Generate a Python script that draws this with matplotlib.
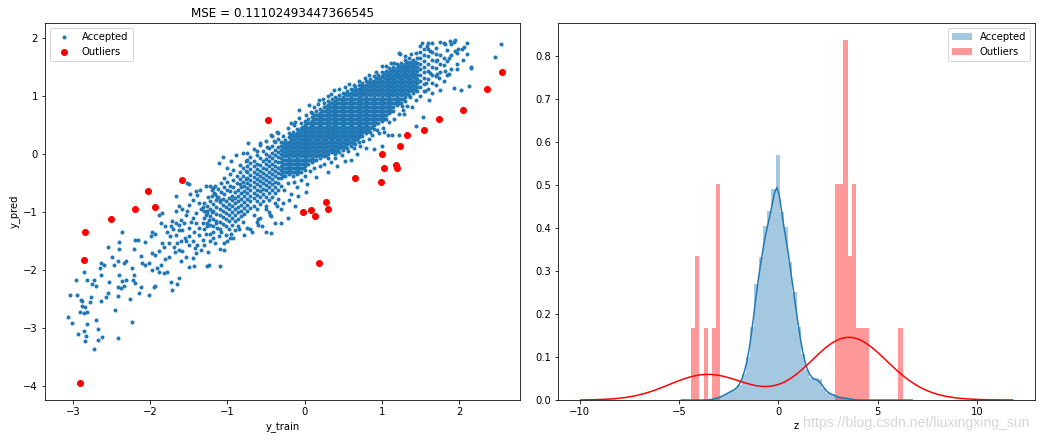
import numpy as np
import matplotlib
matplotlib.use("Agg")
import matplotlib.pyplot as plt

# ---------------- data: left panel ----------------
mse_title = "MSE = 0.11102493447366545"

# outliers (y_train, y_pred)
out_x = [2.56, 2.36, 2.05, 1.74, 1.55, 1.33, 1.24, 1.00, 1.03, 1.18, 1.20, 0.65, 0.99, -0.47,
         -1.58, 0.28, 0.31, 0.08, -0.02, 0.13, 0.19, -1.94, -2.20, -2.51, -2.84, -2.86, -2.91, -2.02]
out_y = [1.41, 1.12, 0.75, 0.60, 0.41, 0.32, 0.13, 0.00, -0.24, -0.19, -0.24, -0.41, -0.48, 0.58,
         -0.46, -0.83, -0.95, -0.97, -1.01, -1.08, -1.89, -0.92, -0.95, -1.12, -1.35, -1.83, -3.94, -0.65]

# accepted points: individually read scattered points (y_train, y_pred)
acc_scatter_points = [
    (-3.06, -2.81), (-3.04, -2.43), (-3.01, -2.92), (-2.93, -3.11), (-2.86, -3.05), (-2.84, -3.23),
    (-2.83, -3.14), (-2.95, -2.43), (-2.90, -2.51), (-2.88, -2.54), (-2.88, -2.62), (-2.84, -2.64),
    (-2.91, -2.72), (-2.86, -2.74), (-2.81, -2.72), (-2.81, -2.93), (-2.78, -2.55), (-2.70, -2.86),
    (-2.68, -3.01), (-2.68, -3.20), (-2.62, -3.16), (-2.72, -3.37), (-2.86, -2.03), (-2.96, -2.17),
    (-2.81, -2.18), (-2.75, -2.25), (-2.73, -2.17), (-2.70, -2.27), (-2.65, -1.97), (-2.64, -1.88),
    (-2.60, -1.91), (-2.63, -2.08), (-2.57, -2.47), (-2.55, -2.40), (-2.53, -2.21), (-2.64, -2.54),
    (-2.77, -2.46), (-2.45, -2.69), (-2.41, -3.18), (-2.49, -1.77), (-2.47, -1.91), (-2.42, -1.85),
    (-2.31, -1.85), (-2.34, -1.88), (-2.40, -2.08), (-2.36, -2.20), (-2.31, -2.17), (-2.34, -2.28),
    (-2.38, -2.31), (-2.42, -2.29), (-2.42, -2.45), (-2.26, -2.50), (-2.23, -2.89), (-2.55, -1.61),
    (-2.40, -1.52), (-2.40, -1.64), (-2.36, -1.34), (-2.21, -1.64), (-2.19, -1.48), (-2.16, -1.48),
    (-2.22, -2.17), (-2.21, -2.08), (-2.19, -2.23), (-2.12, -2.29), (-2.14, -2.40), (-2.01, -2.44),
    (-1.95, -2.29), (-1.93, -2.27), (-2.06, -1.91), (-2.01, -1.88), (-1.97, -2.00), (-1.91, -1.97),
    (-1.86, -1.91), (-2.12, -1.76), (-2.10, -1.89), (-2.23, -1.97), (-2.06, -1.52), (-1.98, -1.35),
    (-1.99, -1.42), (-1.93, -1.39), (-1.89, -1.68), (-1.97, -1.71), (-1.93, -1.74), (-1.84, -1.54),
    (-1.82, -1.60), (-1.76, -1.54), (-1.80, -1.82), (-1.76, -1.77), (-1.78, -2.03), (-1.89, -2.03),
    (-1.82, -2.05), (-1.73, -2.21), (-1.72, -2.35), (-1.65, -2.25), (-1.63, -2.14), (-1.86, -1.19),
    (-1.89, -1.05), (-1.84, -1.02), (-1.71, -1.16), (-1.73, -1.25), (-1.67, -1.19), (-1.80, -1.25),
    (-1.63, -1.31), (-1.69, -1.60), (-1.65, -1.54), (-1.63, -1.65), (-1.58, -1.68), (-1.54, -1.77),
    (-1.45, -1.80), (-1.41, -1.71), (-1.34, -1.65), (-1.60, -1.14), (-1.54, -1.05), (-1.52, -0.99),
    (-1.45, -1.11), (-1.41, -1.02), (-1.34, -0.96), (-1.28, -1.05), (-1.24, -1.14), (-1.32, -1.19),
    (-1.37, -1.28), (-1.43, -1.34), (-1.49, -1.42), (-1.54, -1.51), (-1.45, -1.51), (-1.39, -1.57),
    (-1.32, -1.48), (-1.28, -1.39), (-1.19, -1.34), (-1.13, -1.28), (-1.11, -1.42), (-1.22, -1.51),
    (-1.04, -1.65), (-1.10, -1.64), (-1.16, -1.54), (-1.04, -1.54), (-0.96, -1.45), (-0.92, -1.45),
    (-1.26, -1.94), (-1.24, -1.91), (-1.10, -1.94), (-1.43, -1.94),
    (-1.78, -1.35), (-1.74, -1.42), (-1.70, -1.30), (-1.66, -1.40), (-1.62, -1.22), (-1.58, -1.32),
    (-1.56, -1.20), (-1.50, -1.28), (-1.47, -1.18), (-1.40, -1.20), (-1.36, -1.40), (-1.30, -1.30),
    (-1.26, -1.24), (-1.22, -1.38), (-1.18, -1.45), (-1.15, -1.20), (-1.08, -1.35), (-1.02, -1.40),
    (-0.98, -1.30), (-0.90, -1.32), (-0.86, -1.25), (-1.50, -1.58), (-1.42, -1.62), (-1.30, -1.58),
    (-1.25, -1.70), (-1.60, -1.50), (-1.68, -1.70), (-1.60, -1.85), (-1.50, -1.95), (-1.55, -1.45),
    (-1.26, -0.98), (-1.20, -1.00),
    (-0.74, -1.28), (-0.60, -1.22), (-0.44, -1.37), (-0.31, -1.20), (-0.80, -1.18), (-0.68, -1.35),
    (-0.44, -1.08), (-0.31, -0.96), (-0.22, -1.11), (-0.38, -1.20), (-0.55, -1.25), (-0.62, -1.18),
    (-0.70, -1.30), (-0.50, -1.35), (-0.78, -1.40), (-0.85, -1.30), (-0.95, -1.38), (-1.00, -1.50),
    (-0.50, -0.95), (-0.45, -1.05), (-0.60, -1.12),
    (-1.52, -0.50), (-1.41, -0.65), (-1.39, -0.71), (-1.28, -0.56), (-1.19, -0.59), (-1.17, -0.68),
    (-1.13, -0.74), (-1.09, -0.79), (-1.45, -0.80), (-1.50, -0.88), (-1.36, -0.85), (-1.32, -0.92),
    (-1.62, -0.90), (-1.58, -0.95), (-1.66, -0.98), (-1.25, -0.75), (-1.35, -0.62), (-1.48, -0.70),
    # upper-left edge of the band
    (-0.28, 0.30), (-0.22, 0.45), (-0.18, 0.52), (-0.12, 0.55), (-0.07, 0.62), (-0.07, 0.76),
    (-0.14, 0.50), (0.02, 0.66), (0.06, 0.83), (0.08, 0.72), (0.12, 0.80), (0.18, 0.86),
    (0.19, 0.93), (0.24, 0.95), (0.31, 0.99), (0.38, 1.10), (0.34, 1.02), (0.45, 1.12),
    (0.52, 1.15), (0.58, 1.20), (0.64, 1.19), (0.70, 1.26), (0.78, 1.30), (0.84, 1.35),
    (0.92, 1.40), (1.00, 1.51), (1.05, 1.51), (1.12, 1.56), (1.16, 1.57), (1.23, 1.71),
    (1.22, 1.73), (1.30, 1.68), (1.38, 1.72), (1.44, 1.74), (-0.35, 0.37), (-0.44, 0.33),
    (-0.57, 0.18), (-0.73, 0.18), (-0.89, -0.03), (-1.05, -0.05), (-1.11, -0.16), (-0.40, 0.22),
    (-0.48, 0.12), (-0.62, 0.05), (-0.80, 0.02), (-0.95, -0.12), (-1.00, -0.25), (-1.22, -0.56),
    (-1.50, -0.52), (-1.67, -0.73),
    # lower-right edge of the band
    (-0.30, -0.55), (-0.26, -0.62), (-0.22, -0.50), (-0.18, -0.70), (-0.14, -0.48), (-0.10, -0.58),
    (-0.05, -0.45), (0.00, -0.38), (0.03, -0.52), (0.07, -0.30), (0.12, -0.25), (0.15, -0.40),
    (0.20, -0.22), (0.25, -0.18), (0.30, -0.32), (0.34, -0.14), (0.40, -0.08), (0.42, -0.21),
    (0.48, -0.02), (0.52, -0.12), (0.56, 0.05), (0.60, -0.10), (0.64, 0.10), (0.68, 0.00),
    (0.72, 0.14), (0.76, 0.22), (0.80, 0.10), (0.84, 0.26), (0.88, 0.32), (0.90, 0.08),
    (0.94, 0.40), (0.97, 0.36), (1.02, 0.45), (1.08, 0.32), (1.10, 0.55), (1.16, 0.60),
    (1.22, 0.32), (1.22, 0.68), (1.27, 0.75), (1.29, 0.68), (1.33, 0.82), (1.37, 0.97),
    (1.39, 0.80), (1.26, 0.82), (1.44, 0.48), (1.44, 0.92), (1.50, 1.00), (1.54, 0.64),
    (1.56, 1.08), (1.57, 1.22), (1.61, 0.93), (1.13, 0.33), (1.03, 0.38), (1.00, 0.13),
    (-0.20, -0.80), (-0.08, -0.72), (0.02, -0.66), (-0.35, -0.90), (-0.28, -0.85), (-0.12, -0.90),
    # upper right
    (2.54, 1.88), (2.46, 1.67), (2.15, 1.50), (2.15, 1.47), (2.04, 1.81), (1.93, 1.93),
    (1.76, 1.93), (1.65, 1.90), (1.93, 1.13), (2.02, 1.10), (2.13, 1.16), (1.74, 1.30),
    (1.82, 1.42), (1.87, 1.38), (1.97, 1.45), (1.87, 1.65), (1.95, 1.77), (1.99, 1.80),
    (2.06, 1.83), (1.82, 1.88), (1.89, 1.94), (1.95, 1.95), (1.52, 1.91), (1.59, 1.86),
    (1.63, 1.77), (1.70, 1.71), (1.72, 1.62), (1.72, 1.38), (1.63, 1.39),
]

# accepted points: band columns (y_train, list of y_pred)
acc_band_columns = [
    (-1.30, [-0.85, -0.98, -1.10]),
    (-1.26, [-0.90, -1.02, -1.20]),
    (-1.22, [-0.82, -0.95, -1.07, -1.22]),
    (-1.18, [-0.86, -0.99, -1.12, -1.25]),
    (-1.14, [-0.80, -0.92, -1.03, -1.15]),
    (-1.10, [-0.84, -0.95, -1.06, -1.18, -1.30]),
    (-1.06, [-0.78, -0.88, -0.98, -1.09, -1.21]),
    (-1.02, [-0.82, -0.92, -1.02, -1.13, -1.25]),
    (-0.98, [-0.76, -0.86, -0.96, -1.06, -1.16]),
    (-0.94, [-0.72, -0.80, -0.90, -1.00, -1.10, -1.22]),
    (-0.90, [-0.66, -0.76, -0.85, -0.95, -1.05, -1.15]),
    (-0.86, [-0.62, -0.72, -0.82, -0.91, -1.01, -1.12]),
    (-0.82, [-0.58, -0.68, -0.78, -0.88, -0.98, -1.08]),
    (-0.78, [-0.55, -0.64, -0.73, -0.83, -0.93, -1.04]),
    (-1.20, [-0.62, -0.72]),
    (-1.16, [-0.55, -0.70]),
    (-1.12, [-0.60, -0.74]),
    (-1.08, [-0.50, -0.66]),
    (-1.04, [-0.42, -0.58, -0.70]),
    (-1.00, [-0.48, -0.62]),
    (-0.96, [-0.35, -0.55, -0.64]),
    (-0.92, [-0.28, -0.45, -0.58]),
    (-0.88, [-0.38, -0.50]),
    (-0.84, [-0.20, -0.32, -0.44, -0.52]),
    (-0.80, [-0.25, -0.38, -0.48]),
    (-0.76, [-0.12, -0.30, -0.44]),
    (-0.74, [0.02, -0.10, -0.22, -0.32, -0.41, -0.50, -0.59, -0.68, -0.78, -0.88, -0.99]),
    (-0.70, [-0.05, -0.16, -0.27, -0.36, -0.45, -0.54, -0.63, -0.72, -0.82, -0.93]),
    (-0.66, [0.08, -0.12, -0.22, -0.31, -0.40, -0.49, -0.58, -0.67, -0.77, -0.90, -1.05]),
    (-0.62, [-0.03, -0.17, -0.26, -0.35, -0.44, -0.53, -0.62, -0.71, -0.81, -0.95]),
    (-0.58, [0.15, -0.08, -0.20, -0.29, -0.38, -0.47, -0.56, -0.65, -0.75, -0.86, -1.10]),
    (-0.54, [0.04, -0.13, -0.24, -0.33, -0.42, -0.51, -0.60, -0.70, -0.82]),
    (-0.50, [0.22, 0.00, -0.09, -0.18, -0.27, -0.36, -0.45, -0.54, -0.63, -0.74, -0.90]),
    (-0.46, [0.10, -0.04, -0.13, -0.22, -0.31, -0.40, -0.49, -0.58, -0.68, -0.80, -1.00]),
    (-0.42, [0.30, 0.14, 0.02, -0.08, -0.17, -0.26, -0.35, -0.44, -0.53, -0.63, -0.75]),
    (-0.38, [0.20, 0.06, -0.03, -0.12, -0.21, -0.30, -0.39, -0.48, -0.57, -0.68, -0.85]),
    (-0.34, [0.35, 0.26, 0.12, 0.03, -0.06, -0.15, -0.24, -0.33, -0.42, -0.51, -0.62, -0.78]),
    (1.50, [1.15, 1.25, 1.35, 1.45, 1.55, 1.65, 1.75, 1.85]),
    (1.55, [1.08, 1.20, 1.30, 1.40, 1.50, 1.60, 1.70, 1.80]),
    (1.60, [1.12, 1.28, 1.42, 1.55, 1.68, 1.80, 1.90]),
    (1.65, [1.05, 1.22, 1.36, 1.50, 1.62, 1.75]),
    (1.70, [1.18, 1.33, 1.48, 1.60, 1.82]),
    (1.75, [1.10, 1.40, 1.55, 1.70]),
    (1.80, [1.25, 1.52, 1.65, 1.90]),
    (1.85, [1.35, 1.60, 1.78]),
    (1.90, [1.45, 1.70, 1.88]),
    (1.98, [1.55, 1.74]),
    (2.05, [1.62]),
    (2.10, [1.72, 1.90]),
]

# accepted points: dense core columns (y_train, list of y_pred)
acc_core_columns = [
    (-0.30, [-0.42, -0.35, -0.28, -0.21, -0.14, -0.07, 0.00, 0.07, 0.14, 0.21]),
    (-0.25, [-0.39, -0.32, -0.25, -0.18, -0.11, -0.04, 0.03, 0.10, 0.17, 0.24]),
    (-0.20, [-0.35, -0.28, -0.21, -0.14, -0.07, 0.00, 0.07, 0.14, 0.21, 0.28, 0.35]),
    (-0.15, [-0.39, -0.32, -0.25, -0.18, -0.11, -0.04, 0.03, 0.10, 0.17, 0.24, 0.31, 0.38]),
    (-0.10, [-0.35, -0.28, -0.21, -0.14, -0.07, 0.00, 0.07, 0.14, 0.21, 0.28, 0.35, 0.42]),
    (-0.05, [-0.32, -0.25, -0.18, -0.11, -0.04, 0.03, 0.10, 0.17, 0.24, 0.31, 0.38, 0.45, 0.52]),
    (0.00, [-0.28, -0.21, -0.14, -0.07, 0.00, 0.07, 0.14, 0.21, 0.28, 0.35, 0.42, 0.49, 0.56]),
    (0.05, [-0.18, -0.11, -0.04, 0.03, 0.10, 0.17, 0.24, 0.31, 0.38, 0.45, 0.52, 0.59]),
    (0.10, [-0.14, -0.07, 0.00, 0.07, 0.14, 0.21, 0.28, 0.35, 0.42, 0.49, 0.56, 0.63, 0.70]),
    (0.15, [-0.11, -0.04, 0.03, 0.10, 0.17, 0.24, 0.31, 0.38, 0.45, 0.52, 0.59, 0.66, 0.73]),
    (0.20, [-0.07, 0.00, 0.07, 0.14, 0.21, 0.28, 0.35, 0.42, 0.49, 0.56, 0.63, 0.70, 0.77]),
    (0.25, [-0.04, 0.03, 0.10, 0.17, 0.24, 0.31, 0.38, 0.45, 0.52, 0.59, 0.66, 0.73, 0.80, 0.87]),
    (0.30, [-0.07, 0.00, 0.07, 0.14, 0.21, 0.28, 0.35, 0.42, 0.49, 0.56, 0.63, 0.70, 0.77, 0.84, 0.91]),
    (0.35, [0.03, 0.10, 0.17, 0.24, 0.31, 0.38, 0.45, 0.52, 0.59, 0.66, 0.73, 0.80, 0.87, 0.94]),
    (0.40, [0.00, 0.07, 0.14, 0.21, 0.28, 0.35, 0.42, 0.49, 0.56, 0.63, 0.70, 0.77, 0.84, 0.91, 0.98]),
    (0.45, [0.03, 0.10, 0.17, 0.24, 0.31, 0.38, 0.45, 0.52, 0.59, 0.66, 0.73, 0.80, 0.87, 0.94, 1.01]),
    (0.50, [0.07, 0.14, 0.21, 0.28, 0.35, 0.42, 0.49, 0.56, 0.63, 0.70, 0.77, 0.84, 0.91, 0.98, 1.05]),
    (0.55, [0.10, 0.17, 0.24, 0.31, 0.38, 0.45, 0.52, 0.59, 0.66, 0.73, 0.80, 0.87, 0.94, 1.01, 1.08]),
    (0.60, [0.14, 0.21, 0.28, 0.35, 0.42, 0.49, 0.56, 0.63, 0.70, 0.77, 0.84, 0.91, 0.98, 1.05, 1.12]),
    (0.65, [0.17, 0.24, 0.31, 0.38, 0.45, 0.52, 0.59, 0.66, 0.73, 0.80, 0.87, 0.94, 1.01, 1.08, 1.15]),
    (0.70, [0.21, 0.28, 0.35, 0.42, 0.49, 0.56, 0.63, 0.70, 0.77, 0.84, 0.91, 0.98, 1.05, 1.12, 1.19]),
    (0.75, [0.31, 0.38, 0.45, 0.52, 0.59, 0.66, 0.73, 0.80, 0.87, 0.94, 1.01, 1.08, 1.15, 1.22]),
    (0.80, [0.35, 0.42, 0.49, 0.56, 0.63, 0.70, 0.77, 0.84, 0.91, 0.98, 1.05, 1.12, 1.19, 1.26]),
    (0.85, [0.38, 0.45, 0.52, 0.59, 0.66, 0.73, 0.80, 0.87, 0.94, 1.01, 1.08, 1.15, 1.22, 1.29]),
    (0.90, [0.42, 0.49, 0.56, 0.63, 0.70, 0.77, 0.84, 0.91, 0.98, 1.05, 1.12, 1.19, 1.26, 1.33]),
    (0.95, [0.52, 0.59, 0.66, 0.73, 0.80, 0.87, 0.94, 1.01, 1.08, 1.15, 1.22, 1.29, 1.36]),
    (1.00, [0.56, 0.63, 0.70, 0.77, 0.84, 0.91, 0.98, 1.05, 1.12, 1.19, 1.26, 1.33, 1.40]),
    (1.05, [0.59, 0.66, 0.73, 0.80, 0.87, 0.94, 1.01, 1.08, 1.15, 1.22, 1.29, 1.36, 1.43]),
    (1.10, [0.70, 0.77, 0.84, 0.91, 0.98, 1.05, 1.12, 1.19, 1.26, 1.33, 1.40, 1.47]),
    (1.15, [0.73, 0.80, 0.87, 0.94, 1.01, 1.08, 1.15, 1.22, 1.29, 1.36, 1.43, 1.50]),
    (1.20, [0.84, 0.91, 0.98, 1.05, 1.12, 1.19, 1.26, 1.33, 1.40, 1.47, 1.54]),
    (1.25, [0.87, 0.94, 1.01, 1.08, 1.15, 1.22, 1.29, 1.36, 1.43, 1.50, 1.57]),
    (1.30, [0.91, 0.98, 1.05, 1.12, 1.19, 1.26, 1.33, 1.40, 1.47, 1.54, 1.61]),
    (1.35, [1.01, 1.08, 1.15, 1.22, 1.29, 1.36, 1.43, 1.50, 1.57, 1.64]),
    (1.40, [1.05, 1.12, 1.19, 1.26, 1.33, 1.40, 1.47, 1.54, 1.61]),
    (1.45, [1.08, 1.15, 1.22, 1.29, 1.36, 1.43, 1.50, 1.57, 1.64]),
]

# accepted points: dense core, in-between columns (y_train, list of y_pred)
acc_core_columns_mid = [
    (-0.275, [-0.38, -0.31, -0.24, -0.17, -0.10, -0.03, 0.04, 0.11, 0.18]),
    (-0.225, [-0.31, -0.24, -0.17, -0.10, -0.03, 0.04, 0.11, 0.18]),
    (-0.175, [-0.31, -0.24, -0.17, -0.10, -0.03, 0.04, 0.11, 0.18, 0.25, 0.32]),
    (-0.125, [-0.31, -0.24, -0.17, -0.10, -0.03, 0.04, 0.11, 0.18, 0.25, 0.32]),
    (-0.075, [-0.31, -0.24, -0.17, -0.10, -0.03, 0.04, 0.11, 0.18, 0.25, 0.32, 0.39]),
    (-0.025, [-0.24, -0.17, -0.10, -0.03, 0.04, 0.11, 0.18, 0.25, 0.32, 0.39, 0.46]),
    (0.025, [-0.17, -0.10, -0.03, 0.04, 0.11, 0.18, 0.25, 0.32, 0.39, 0.46, 0.53]),
    (0.075, [-0.10, -0.03, 0.04, 0.11, 0.18, 0.25, 0.32, 0.39, 0.46, 0.53]),
    (0.125, [-0.10, -0.03, 0.04, 0.11, 0.18, 0.25, 0.32, 0.39, 0.46, 0.53, 0.60, 0.67]),
    (0.175, [-0.03, 0.04, 0.11, 0.18, 0.25, 0.32, 0.39, 0.46, 0.53, 0.60, 0.67]),
    (0.225, [-0.03, 0.04, 0.11, 0.18, 0.25, 0.32, 0.39, 0.46, 0.53, 0.60, 0.67, 0.74]),
    (0.275, [-0.03, 0.04, 0.11, 0.18, 0.25, 0.32, 0.39, 0.46, 0.53, 0.60, 0.67, 0.74, 0.81]),
    (0.325, [0.04, 0.11, 0.18, 0.25, 0.32, 0.39, 0.46, 0.53, 0.60, 0.67, 0.74, 0.81, 0.88]),
    (0.375, [0.04, 0.11, 0.18, 0.25, 0.32, 0.39, 0.46, 0.53, 0.60, 0.67, 0.74, 0.81, 0.88]),
    (0.425, [0.04, 0.11, 0.18, 0.25, 0.32, 0.39, 0.46, 0.53, 0.60, 0.67, 0.74, 0.81, 0.88, 0.95]),
    (0.475, [0.11, 0.18, 0.25, 0.32, 0.39, 0.46, 0.53, 0.60, 0.67, 0.74, 0.81, 0.88, 0.95]),
    (0.525, [0.11, 0.18, 0.25, 0.32, 0.39, 0.46, 0.53, 0.60, 0.67, 0.74, 0.81, 0.88, 0.95, 1.02]),
    (0.575, [0.18, 0.25, 0.32, 0.39, 0.46, 0.53, 0.60, 0.67, 0.74, 0.81, 0.88, 0.95, 1.02]),
    (0.625, [0.18, 0.25, 0.32, 0.39, 0.46, 0.53, 0.60, 0.67, 0.74, 0.81, 0.88, 0.95, 1.02, 1.09]),
    (0.675, [0.25, 0.32, 0.39, 0.46, 0.53, 0.60, 0.67, 0.74, 0.81, 0.88, 0.95, 1.02, 1.09]),
    (0.725, [0.32, 0.39, 0.46, 0.53, 0.60, 0.67, 0.74, 0.81, 0.88, 0.95, 1.02, 1.09, 1.16]),
    (0.775, [0.39, 0.46, 0.53, 0.60, 0.67, 0.74, 0.81, 0.88, 0.95, 1.02, 1.09, 1.16]),
    (0.825, [0.39, 0.46, 0.53, 0.60, 0.67, 0.74, 0.81, 0.88, 0.95, 1.02, 1.09, 1.16, 1.23]),
    (0.875, [0.46, 0.53, 0.60, 0.67, 0.74, 0.81, 0.88, 0.95, 1.02, 1.09, 1.16, 1.23]),
    (0.925, [0.53, 0.60, 0.67, 0.74, 0.81, 0.88, 0.95, 1.02, 1.09, 1.16, 1.23, 1.30]),
    (0.975, [0.60, 0.67, 0.74, 0.81, 0.88, 0.95, 1.02, 1.09, 1.16, 1.23, 1.30]),
    (1.025, [0.60, 0.67, 0.74, 0.81, 0.88, 0.95, 1.02, 1.09, 1.16, 1.23, 1.30, 1.37]),
    (1.075, [0.74, 0.81, 0.88, 0.95, 1.02, 1.09, 1.16, 1.23, 1.30, 1.37]),
    (1.125, [0.74, 0.81, 0.88, 0.95, 1.02, 1.09, 1.16, 1.23, 1.30, 1.37, 1.44]),
    (1.175, [0.88, 0.95, 1.02, 1.09, 1.16, 1.23, 1.30, 1.37, 1.44]),
    (1.225, [0.88, 0.95, 1.02, 1.09, 1.16, 1.23, 1.30, 1.37, 1.44, 1.51]),
    (1.275, [0.95, 1.02, 1.09, 1.16, 1.23, 1.30, 1.37, 1.44, 1.51]),
    (1.325, [1.02, 1.09, 1.16, 1.23, 1.30, 1.37, 1.44, 1.51, 1.58]),
    (1.375, [1.09, 1.16, 1.23, 1.30, 1.37, 1.44, 1.51, 1.58]),
    (1.425, [1.09, 1.16, 1.23, 1.30, 1.37, 1.44, 1.51, 1.58]),
]

# ---------------- data: right panel ----------------
# z of the outliers
outlier_z = [-4.41, -4.10, -4.05, -3.65, -3.22, -3.10, -3.06, -3.02,
             2.90, 2.96, 3.02, 3.10, 3.16, 3.22, 3.30, 3.35, 3.40, 3.44, 3.47,
             3.55, 3.64, 3.75, 3.80, 3.88, 4.02, 4.22, 4.45, 6.26]
# density of the accepted histogram in each of the 50 bins spanning the z range
accepted_density = [0.0, 0.0, 0.0, 0.0, 0.0, 0.003, 0.005, 0.010, 0.015, 0.022,
                    0.025, 0.036, 0.060, 0.100, 0.170, 0.270, 0.333, 0.405, 0.440, 0.490,
                    0.569, 0.437, 0.403, 0.320, 0.250, 0.170, 0.108, 0.070, 0.052, 0.050,
                    0.048, 0.027, 0.016, 0.014, 0.008, 0.005, 0.005, 0.003, 0.0, 0.0,
                    0.0, 0.0, 0.0, 0.0, 0.0, 0.0, 0.0, 0.0, 0.0, 0.0]
n_bins = 50
accepted_kde_bw = 0.16
watermark = "https://blog.csdn.net/liuxingxing_sun"

# ---------------- assemble accepted points ----------------
acc_x = [p[0] for p in acc_scatter_points]
acc_y = [p[1] for p in acc_scatter_points]
for cols in (acc_band_columns, acc_core_columns, acc_core_columns_mid):
    for cx, ys in cols:
        acc_x.extend([cx] * len(ys))
        acc_y.extend(ys)


def gauss_kde(values, weights, bw, grid):
    values = np.asarray(values, float)
    weights = np.asarray(weights, float)
    d = (grid[:, None] - values[None, :]) / bw
    dens = (weights[None, :] * np.exp(-0.5 * d ** 2)).sum(axis=1)
    return dens / (weights.sum() * bw * np.sqrt(2 * np.pi))


fig = plt.figure(figsize=(1041 / 72, 441 / 72), dpi=72)
ax1 = fig.add_axes([45 / 1041, 41 / 441, 475 / 1041, 377 / 441])
ax2 = fig.add_axes([558 / 1041, 41 / 441, 477 / 1041, 377 / 441])

# left panel
ax1.plot(acc_x, acc_y, '.', color='C0', label='Accepted')
ax1.plot(out_x, out_y, 'ro', label='Outliers')
ax1.set_xlim(-3.36, 2.79)
ax1.set_ylim(-4.24, 2.25)
ax1.set_xlabel('y_train')
ax1.set_ylabel('y_pred')
ax1.set_title(mse_title)
ax1.legend(loc='upper left')

# right panel
z = np.asarray(outlier_z)
edges = np.linspace(z.min(), z.max(), n_bins + 1)
centers = 0.5 * (edges[:-1] + edges[1:])

ax2.hist(edges[:-1], bins=edges, weights=accepted_density, color='C0', alpha=0.4,
         label='Accepted')
grid_a = np.linspace(z.min() - 3 * accepted_kde_bw, z.max() + 3 * accepted_kde_bw, 100)
ax2.plot(grid_a, gauss_kde(centers, accepted_density, accepted_kde_bw, grid_a), color='C0')

ax2.hist(z, bins=n_bins, density=True, color='red', alpha=0.4, label='Outliers')
sd = np.std(z, ddof=1)
iqr = np.subtract(*np.percentile(z, [75, 25]))
bw_o = 1.059 * min(sd, iqr / 1.349) * len(z) ** (-0.2)
grid_o = np.linspace(z.min() - 3 * bw_o, z.max() + 3 * bw_o, 100)
ax2.plot(grid_o, gauss_kde(z, np.ones_like(z), bw_o, grid_o), color='red')
ax2.set_xlim(-11.1, 12.93)
ax2.set_ylim(0, 0.876)
ax2.set_xlabel('z')
ax2.legend(loc='upper right')

fig.text(1030 / 1041, 1 - 423 / 441, watermark, ha='right', va='center',
         fontsize=14, family='Liberation Sans', color='#d6d6d6')

fig.savefig('out.png', dpi=72)
